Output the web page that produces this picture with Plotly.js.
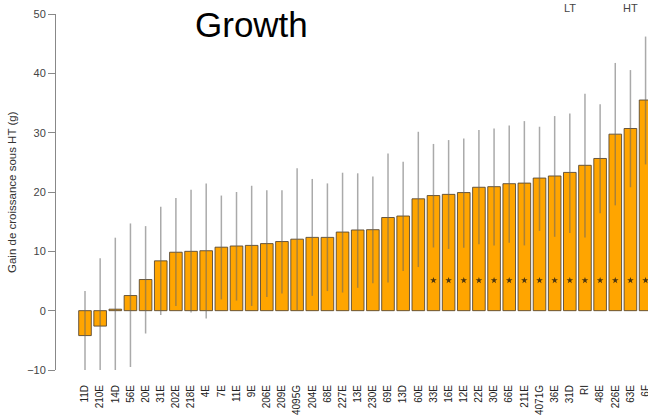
<!DOCTYPE html>
<html>
<head>
<meta charset="utf-8">
<script src="https://cdn.plot.ly/plotly-3.0.1.min.js"></script>
<style>html,body{margin:0;padding:0;background:#fff;}#chart{width:648px;height:420px;}</style>
</head>
<body>
<div id="chart"></div>
<script>
const categories = ["11D","210E","14D","56E","20E","31E","202E","218E","4E","7E","11E","9E","206E","209E","4095G","204E","68E","227E","13E","230E","69E","13D","60E","33E","16E","12E","22E","30E","66E","211E","4071G","36E","31D","RI","48E","226E","63E","6F"];
const gain = [-4.2,-2.6,0.25,2.55,5.25,8.4,9.85,10.0,10.1,10.7,10.9,11.0,11.3,11.65,12.05,12.35,12.35,13.25,13.6,13.65,15.7,15.95,18.85,19.4,19.6,19.9,20.8,20.9,21.4,21.5,22.35,22.7,23.3,24.5,25.65,29.75,30.7,35.5];
const upper = [3.3,8.85,12.3,14.7,14.25,17.5,19.0,20.4,21.45,19.4,20.0,21.05,20.3,20.3,24.0,22.2,21.45,23.25,23.15,22.6,26.5,25.1,30.15,28.1,28.75,29.0,30.45,30.7,31.2,31.95,31.0,32.8,33.25,36.55,34.8,41.75,40.55,46.2];
const lower = [-12,-12,-12,-9.5,-3.85,-0.75,0.8,-0.3,-1.3,1.9,1.7,0.8,2.3,2.9,0.1,2.5,3.3,3.05,3.85,4.6,4.75,6.7,7.35,10.65,10.4,10.6,11.2,11.0,11.45,11.0,13.45,12.45,13.1,12.35,16.4,17.75,20.8,24.65];
const starred = ["33E","16E","12E","22E","30E","66E","211E","4071G","36E","31D","RI","48E","226E","63E","6F"];
const starLevel = 5.1;
const yTitle = "Gain de croissance sous HT (g)";
const mainTitle = "Growth";
const groupLabels = [{cat:"31D", text:"LT"}, {cat:"63E", text:"HT"}];

const W = 648, H = 420, ml = 56, mr = 0, mt = 14, mb = 50;
const plotW = W - ml - mr;

const barTrace = {
  type: 'bar',
  x: categories,
  y: gain,
  width: 0.833,
  marker: {color: '#FFA500', line: {color: 'rgba(80,66,48,0.85)', width: 1}},
  error_y: {
    type: 'data', symmetric: false,
    array: gain.map((g,i) => upper[i] - g),
    arrayminus: gain.map((g,i) => g - lower[i]),
    color: 'rgba(100,100,100,0.55)', thickness: 1.5, width: 0
  },
  hoverinfo: 'x+y'
};

const starTrace = {
  type: 'scatter', mode: 'markers',
  x: starred,
  y: starred.map(() => starLevel),
  marker: {symbol: 'star', size: 5, color: '#4a3510'},
  hoverinfo: 'skip'
};

const xRange = [-1.914, 37.16];
const toPaperX = px => (px - ml) / plotW;

const annotations = [
  {text: mainTitle, xref: 'paper', yref: 'paper', x: toPaperX(251.5), y: 1 + (mt - 24.5) / (H - mt - mb),
   showarrow: false, xanchor: 'center', yanchor: 'middle',
   font: {family: 'Liberation Sans, Arial, sans-serif', size: 35, color: '#000'}},
  {text: yTitle, xref: 'paper', yref: 'paper', x: toPaperX(12), y: 0.5, textangle: -90,
   showarrow: false, xanchor: 'center', yanchor: 'middle',
   font: {family: 'Liberation Sans, Arial, sans-serif', size: 11.5, color: '#333'}}
];
groupLabels.forEach(g => {
  annotations.push({text: g.text, xref: 'x', yref: 'paper', x: categories.indexOf(g.cat),
    y: 1 + (mt - 8) / (H - mt - mb), showarrow: false, xanchor: 'center', yanchor: 'middle',
    font: {family: 'Liberation Sans, Arial, sans-serif', size: 11, color: '#444'}});
});

const layout = {
  width: W, height: H,
  margin: {l: ml, r: mr, t: mt, b: mb, pad: 0},
  paper_bgcolor: '#fff', plot_bgcolor: '#fff',
  showlegend: false,
  bargap: 0.167,
  xaxis: {
    type: 'category', categoryorder: 'array', categoryarray: categories,
    range: xRange, tickangle: -90, showgrid: false, zeroline: false, showline: false,
    ticks: 'outside', ticklen: 10, tickcolor: 'rgba(0,0,0,0)',
    tickfont: {family: 'Liberation Sans, Arial, sans-serif', size: 10, color: '#222'}
  },
  yaxis: {
    range: [-10, 50], tickvals: [-10,0,10,20,30,40,50],
    showgrid: false, zeroline: false, showline: true, linecolor: '#888', linewidth: 1,
    ticks: 'outside', ticklen: 7, tickcolor: '#888', tickwidth: 1,
    tickfont: {family: 'Liberation Sans, Arial, sans-serif', size: 11, color: '#444'}
  },
  annotations: annotations
};

Plotly.newPlot('chart', [barTrace, starTrace], layout, {staticPlot: true, displayModeBar: false});
</script>
</body>
</html>
